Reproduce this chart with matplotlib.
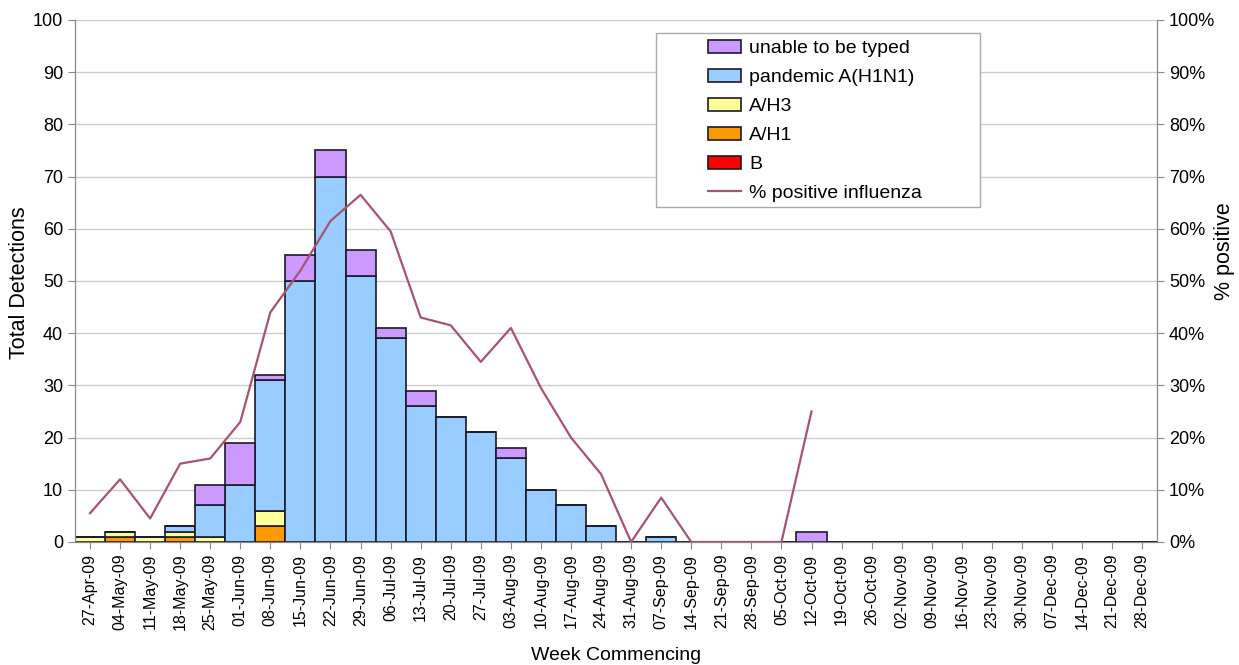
import numpy as np
import matplotlib
matplotlib.use("Agg")
import matplotlib.pyplot as plt
from matplotlib.patches import Rectangle
from matplotlib.ticker import FuncFormatter

plt.rcParams['font.family'] = ['Liberation Sans', 'DejaVu Sans']

weeks = ["27-Apr-09", "04-May-09", "11-May-09", "18-May-09", "25-May-09",
         "01-Jun-09", "08-Jun-09", "15-Jun-09", "22-Jun-09", "29-Jun-09",
         "06-Jul-09", "13-Jul-09", "20-Jul-09", "27-Jul-09", "03-Aug-09",
         "10-Aug-09", "17-Aug-09", "24-Aug-09", "31-Aug-09", "07-Sep-09",
         "14-Sep-09", "21-Sep-09", "28-Sep-09", "05-Oct-09", "12-Oct-09",
         "19-Oct-09", "26-Oct-09", "02-Nov-09", "09-Nov-09", "16-Nov-09",
         "23-Nov-09", "30-Nov-09", "07-Dec-09", "14-Dec-09", "21-Dec-09",
         "28-Dec-09"]

b_vals =        [0, 0, 0, 0, 0, 0, 0, 0, 0, 0, 0, 0, 0, 0, 0, 0, 0, 0, 0, 0,
                 0, 0, 0, 0, 0, 0, 0, 0, 0, 0, 0, 0, 0, 0, 0, 0]
a_h1 =          [0, 1, 0, 1, 0, 0, 3, 0, 0, 0, 0, 0, 0, 0, 0, 0, 0, 0, 0, 0,
                 0, 0, 0, 0, 0, 0, 0, 0, 0, 0, 0, 0, 0, 0, 0, 0]
a_h3 =          [1, 1, 1, 1, 1, 0, 3, 0, 0, 0, 0, 0, 0, 0, 0, 0, 0, 0, 0, 0,
                 0, 0, 0, 0, 0, 0, 0, 0, 0, 0, 0, 0, 0, 0, 0, 0]
pandemic =      [0, 0, 0, 1, 6, 11, 25, 50, 70, 51, 39, 26, 24, 21, 16, 10, 7, 3, 0, 1,
                 0, 0, 0, 0, 0, 0, 0, 0, 0, 0, 0, 0, 0, 0, 0, 0]
untyped =       [0, 0, 0, 0, 4, 8, 1, 5, 5, 5, 2, 3, 0, 0, 2, 0, 0, 0, 0, 0,
                 0, 0, 0, 0, 2, 0, 0, 0, 0, 0, 0, 0, 0, 0, 0, 0]

# % positive influenza, only reported up to 12-Oct-09
pct_positive = [5.5, 12, 4.5, 15, 16, 23, 44, 52, 61.5, 66.5, 59.5, 43, 41.5, 34.5,
                41, 29.5, 20, 13, 0, 8.5, 0, 0, 0, 0, 25]

x = np.arange(len(weeks))

fig = plt.figure(figsize=(12.39, 6.65), dpi=100)
ax = fig.add_axes([0.0605, 0.185, 0.8735, 0.785])

series = [
    (b_vals, "#ff0000", "B"),
    (a_h1, "#ff9900", "A/H1"),
    (a_h3, "#ffff99", "A/H3"),
    (pandemic, "#99ccff", "pandemic A(H1N1)"),
    (untyped, "#cc99ff", "unable to be typed"),
]
bottom = np.zeros(len(weeks))
handles = {}
for vals, col, lab in series:
    vals = np.array(vals, dtype=float)
    bars = ax.bar(x, vals, width=1.0, bottom=bottom, color=col,
                  edgecolor="#1a1a2a", linewidth=1.2, label=lab, zorder=2)
    handles[lab] = bars
    bottom += vals

ax.set_xlim(-0.5, len(weeks) - 0.5)
ax.set_ylim(0, 100)
ax.set_yticks(range(0, 101, 10))
ax.grid(axis='y', color="#cccccc", linewidth=1, zorder=0)
ax.set_axisbelow(True)
ax.set_xticks(x)
ax.set_xticklabels(weeks, rotation=90, fontsize=11.5)
ax.tick_params(axis='y', labelsize=13, length=5, color="#888888")
ax.tick_params(axis='x', length=5, color="#888888")
ax.set_ylabel("Total Detections", fontsize=15.5)
ax.yaxis.set_label_coords(-0.042, 0.496)
ax.set_xlabel("Week Commencing", fontsize=14, labelpad=12)
for s in ax.spines.values():
    s.set_color("#888888")
ax.spines['top'].set_visible(False)

ax2 = ax.twinx()
ax2.set_ylim(0, 100)
ax2.set_yticks(range(0, 101, 10))
ax2.yaxis.set_major_formatter(FuncFormatter(lambda v, p: f"{int(v)}%"))
ax2.tick_params(axis='y', labelsize=13, length=5, color="#888888")
line, = ax2.plot(x[:len(pct_positive)], pct_positive, color="#a8546e",
                 linewidth=1.6, label="% positive influenza", zorder=3)
ax2.set_ylabel("% positive", fontsize=15.5)
ax2.yaxis.set_label_coords(1.052, 0.557)
for s in ax2.spines.values():
    s.set_color("#888888")
ax2.spines['top'].set_visible(False)

# legend frame drawn separately so the entries can sit inset like the original
ax2.add_patch(Rectangle((0.537, 0.642), 0.299, 0.333, transform=ax2.transAxes,
                        facecolor="white", edgecolor="#aaaaaa", linewidth=1,
                        zorder=4, clip_on=False))
order = ["unable to be typed", "pandemic A(H1N1)", "A/H3", "A/H1", "B"]
leg = ax2.legend([handles[o] for o in order] + [line], order + ["% positive influenza"],
                 loc="upper left", bbox_to_anchor=(0.585, 0.962), fontsize=14,
                 frameon=False, borderpad=0, handlelength=1.7, handleheight=0.65,
                 handletextpad=0.4, labelspacing=0.6, borderaxespad=0)
leg.set_zorder(5)

fig.savefig("out.png", dpi=100)
